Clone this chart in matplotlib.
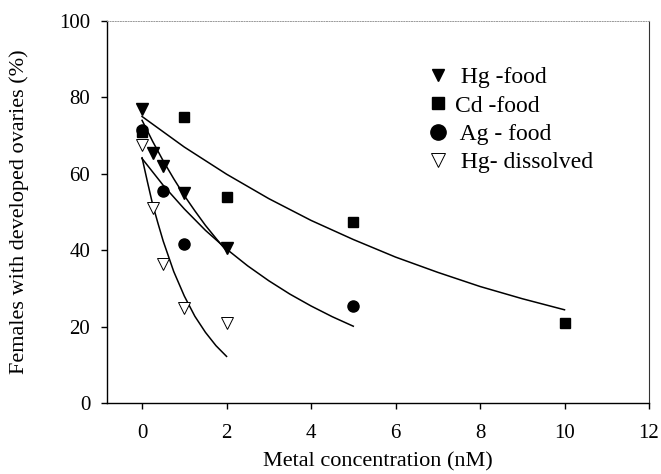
import matplotlib
matplotlib.use("Agg")
import matplotlib.pyplot as plt
from matplotlib.lines import Line2D

plt.rcParams['font.family'] = ['Liberation Serif', 'DejaVu Serif']

# Observed data
hg_food_x = [0, 0.25, 0.5, 1, 2]
hg_food_y = [77, 65.5, 62, 55, 40.5]
cd_food_x = [0, 1, 2, 5, 10]
cd_food_y = [71, 75, 54, 47.5, 21]
ag_food_x = [0, 0.5, 1, 5]
ag_food_y = [71.5, 55.5, 41.5, 25.5]
hg_diss_x = [0, 0.25, 0.5, 1, 2]
hg_diss_y = [67.5, 51, 36.5, 25, 21]

# Fitted curves
cd_fit_x = [0, 1, 2, 3, 4, 5, 6, 7, 8, 9, 10]
cd_fit_y = [75, 67.0, 59.9, 53.5, 47.8, 42.8, 38.2, 34.2, 30.5, 27.3, 24.4]
ag_fit_x = [0, 0.5, 1, 1.5, 2, 2.5, 3, 3.5, 4, 4.5, 5]
ag_fit_y = [64, 57.0, 50.8, 45.2, 40.3, 35.9, 32.0, 28.5, 25.4, 22.6, 20.1]
hgf_fit_x = [0, 0.25, 0.5, 0.75, 1, 1.25, 1.5, 1.75, 2]
hgf_fit_y = [74, 68.5, 63.4, 58.7, 54.3, 50.3, 46.5, 43.1, 39.8]
hgd_fit_x = [0, 0.125, 0.25, 0.375, 0.5, 0.75, 1, 1.25, 1.5, 1.75, 2]
hgd_fit_y = [64.2, 58.0, 52.0, 47.1, 42.4, 34.4, 28.0, 22.7, 18.5, 15.0, 12.2]

labels = [' Hg -food', 'Cd -food', ' Ag - food', ' Hg- dissolved']
xticks = [0, 2, 4, 6, 8, 10, 12]
yticks = [0, 20, 40, 60, 80, 100]

fig = plt.figure(figsize=(6.61, 4.74), dpi=100)
ax = fig.add_axes([107/661, 71/474, 542/661, 382/474])

for fx, fy in [(cd_fit_x, cd_fit_y), (ag_fit_x, ag_fit_y),
               (hgf_fit_x, hgf_fit_y), (hgd_fit_x, hgd_fit_y)]:
    ax.plot(fx, fy, color='black', lw=1.1, zorder=2)

ax.plot(hg_food_x, hg_food_y, 'v', color='black', ms=8, ls='none', zorder=3)
ax.plot(cd_food_x, cd_food_y, 's', color='black', ms=7.2, ls='none', zorder=3)
ax.plot(ag_food_x, ag_food_y, 'o', color='black', ms=8, ls='none', zorder=3)
ax.plot(hg_diss_x, hg_diss_y, 'v', mfc='white', mec='black', mew=0.7, ms=8,
        ls='none', zorder=3)

ax.set_xlim(-0.83, 12)
ax.set_ylim(0, 100)
ax.set_xticks(xticks)
ax.set_yticks(yticks)
ax.tick_params(direction='out', length=4, width=1, labelsize=15)
ax.tick_params(axis='x', pad=11)
ax.tick_params(axis='y', pad=8)
ax.spines['top'].set_color('#999999')
ax.spines['top'].set_linewidth(0.7)
ax.spines['top'].set_linestyle(':')
ax.spines['right'].set_color('#333333')
ax.spines['right'].set_linewidth(0.8)
for s in ['left', 'bottom']:
    ax.spines[s].set_linewidth(1.0)

ax.set_xlabel('Metal concentration (nM)', fontsize=16, labelpad=7)
ax.set_ylabel('Females with developed ovaries (%)', fontsize=16, labelpad=22)

handles = [
    Line2D([], [], marker='v', color='black', ls='none', ms=9),
    Line2D([], [], marker='s', color='black', ls='none', ms=9),
    Line2D([], [], marker='o', color='black', ls='none', ms=11),
    Line2D([], [], marker='v', mfc='white', mec='black', mew=0.7, ls='none', ms=10.5),
]
ax.legend(handles, labels, loc='upper left', bbox_to_anchor=(0.589, 0.88),
          frameon=False, fontsize=17, borderpad=0, borderaxespad=0,
          handletextpad=0.23, labelspacing=0.29, handlelength=1.0)

fig.savefig('out.png', dpi=100)
